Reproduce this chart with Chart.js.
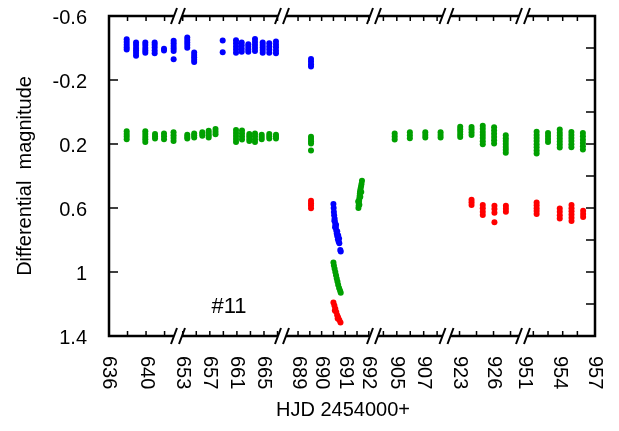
<!DOCTYPE html>
<html lang="en">
  <head>
    <meta charset="UTF-8" />
    <title>Differential magnitude</title>
    <style>
      body {
        margin: 0;
        background: #fff;
      }
      .chart {
        width: 619px;
        height: 431px;
      }
    </style>
  </head>
  <body>
    <div class="chart">
      <canvas id="myChart" width="619" height="431"></canvas>
    </div>
  </body>
  <script src="https://cdn.jsdelivr.net/npm/chart.js"></script>

  <script>
    // HJD - 2454000 of each night, and the magnitudes measured that night
    const blueNights = [637.91, 638.92, 639.92, 640.93, 641.94, 642.98, 653.67, 654.69, 658.9, 660.87, 661.71, 662.68, 663.67, 664.81, 665.78, 666.77, 689.55];
    const blueMags = [
      [-0.455, -0.438, -0.42, -0.405, -0.39],
      [-0.435, -0.418, -0.4, -0.385, -0.368, -0.352],
      [-0.435, -0.418, -0.4, -0.385, -0.37],
      [-0.435, -0.42, -0.403, -0.385, -0.367],
      [-0.395, -0.385],
      [-0.446, -0.43, -0.413, -0.397, -0.382, -0.329],
      [-0.466, -0.45, -0.434, -0.418, -0.402],
      [-0.372, -0.357, -0.342, -0.327, -0.313],
      [-0.447, -0.373],
      [-0.448, -0.43, -0.41, -0.39, -0.371],
      [-0.435, -0.415, -0.396, -0.377],
      [-0.424, -0.408, -0.392, -0.376],
      [-0.456, -0.437, -0.419, -0.4, -0.382],
      [-0.435, -0.419, -0.403, -0.387, -0.371],
      [-0.429, -0.41, -0.39, -0.371],
      [-0.441, -0.422, -0.404, -0.385, -0.367],
      [-0.331, -0.315, -0.299, -0.284],
    ];
    // the fast nights (690 / 691), point by point
    const blueRunT = [690.5, 690.51, 690.52, 690.53, 690.55, 690.56, 690.58, 690.6, 690.62, 690.64, 690.66, 690.69, 690.72, 690.75, 690.79, 690.81,
      690.54, 690.57, 690.61, 690.66, 690.7, 690.74];
    const blueRunM = [0.575, 0.6, 0.625, 0.645, 0.665, 0.685, 0.705, 0.72, 0.74, 0.76, 0.775, 0.795, 0.81, 0.82, 0.862, 0.872,
      0.68, 0.72, 0.705, 0.745, 0.77, 0.79];

    const greenNights = [637.91, 639.92, 640.97, 641.94, 642.97, 653.67, 654.69, 655.89, 656.83, 657.84, 660.87, 661.75, 662.83, 663.67, 664.66, 665.78, 666.77, 689.55, 904.84, 905.97, 907.12, 908.26, 923.06, 924.06, 925.05, 926.05, 927.08, 952.03, 953.0, 954.0, 954.99, 955.97];
    const greenMags = [
      [0.121, 0.137, 0.153, 0.17],
      [0.121, 0.137, 0.154, 0.17, 0.187],
      [0.138, 0.152, 0.166],
      [0.134, 0.152, 0.171],
      [0.127, 0.145, 0.163, 0.181],
      [0.142, 0.154, 0.166],
      [0.134, 0.147, 0.16],
      [0.127, 0.138, 0.149],
      [0.117, 0.131, 0.145, 0.16],
      [0.107, 0.123, 0.139],
      [0.113, 0.131, 0.15, 0.168, 0.187],
      [0.115, 0.134, 0.153, 0.172],
      [0.138, 0.152, 0.167, 0.181],
      [0.134, 0.152, 0.17, 0.187],
      [0.142, 0.156, 0.171],
      [0.138, 0.152, 0.166],
      [0.142, 0.154, 0.166],
      [0.154, 0.168, 0.183, 0.197, 0.24],
      [0.134, 0.153, 0.172],
      [0.127, 0.145, 0.164],
      [0.127, 0.143, 0.16],
      [0.127, 0.143, 0.16],
      [0.092, 0.108, 0.124, 0.14, 0.156],
      [0.093, 0.11, 0.126, 0.143],
      [0.086, 0.105, 0.125, 0.144, 0.163, 0.183, 0.202],
      [0.096, 0.116, 0.136, 0.156, 0.177, 0.197],
      [0.146, 0.164, 0.182, 0.2, 0.218, 0.236, 0.254],
      [0.124, 0.143, 0.163, 0.182, 0.202, 0.221, 0.24, 0.26],
      [0.131, 0.15, 0.169, 0.188],
      [0.11, 0.129, 0.147, 0.166, 0.185, 0.203, 0.222],
      [0.125, 0.144, 0.163, 0.182, 0.201, 0.22],
      [0.131, 0.152, 0.173, 0.193, 0.214, 0.235],
    ];
    const greenRunT = [690.5, 690.52, 690.55, 690.58, 690.61, 690.64, 690.67, 690.7, 690.74, 690.78, 690.81,
      691.56, 691.57, 691.58, 691.59, 691.6, 691.61, 691.62, 691.63, 691.65, 691.67, 691.69, 691.71,
      691.55, 691.6, 691.64, 691.68];
    const greenRunM = [0.94, 0.96, 0.98, 1.0, 1.02, 1.04, 1.06, 1.08, 1.1, 1.115, 1.13,
      0.6, 0.585, 0.57, 0.555, 0.54, 0.525, 0.51, 0.495, 0.48, 0.465, 0.45, 0.43,
      0.56, 0.58, 0.53, 0.5];

    const redNights = [689.55, 924.06, 925.05, 926.08, 927.09, 952.03, 954.0, 955.0, 955.99];
    const redMags = [
      [0.554, 0.57, 0.585, 0.601],
      [0.548, 0.564, 0.581],
      [0.582, 0.602, 0.623, 0.643],
      [0.586, 0.607, 0.629, 0.689],
      [0.586, 0.605, 0.624],
      [0.565, 0.583, 0.601, 0.619, 0.637],
      [0.603, 0.624, 0.645, 0.666],
      [0.581, 0.601, 0.621, 0.641, 0.661, 0.681],
      [0.617, 0.637, 0.657],
    ];
    const redRunT = [690.5, 690.54, 690.58, 690.62, 690.66, 690.7, 690.75, 690.8, 690.56, 690.68];
    const redRunM = [1.19, 1.21, 1.23, 1.25, 1.27, 1.285, 1.3, 1.316, 1.24, 1.29];

    // axis labels / ticks
    const xLabels = [636, 640, 653, 657, 661, 665, 689, 690, 691, 692, 905, 907, 923, 926, 951, 954, 957];
    const xTicks = [638, 640, 642, 653, 655, 657, 659, 661, 663, 665, 667, 689, 689.5, 690, 690.5, 691, 691.5, 692,
      904, 905, 906, 907, 908, 923, 924.5, 926, 927.5, 951.75, 953, 954.25, 955.5];
    const yLabels = [-0.6, -0.2, 0.2, 0.6, 1, 1.4];
    const yRightTicks = [-0.6, -0.4, -0.2, 0, 0.2, 0.4, 0.6, 0.8, 1, 1.2, 1.4];

    // broken x axis: [from, to, width on the axis]
    const pieces = [
      [636, 643.45, 69],
      [652.3, 667.66, 104],
      [688.32, 692.22, 92],
      [903.3, 908.7, 72.5],
      [921.85, 928.6, 76.5],
      [950.87, 957, 72],
    ];
    const axisLen = pieces.reduce((s, p) => s + p[2], 0);

    function toAxis(t) {
      let off = 0;
      for (const [lo, hi, w] of pieces) {
        if (t <= hi + 1e-9) return off + ((t - lo) / (hi - lo)) * w;
        off += w;
      }
      return axisLen;
    }

    function points(nights, mags, runT, runM) {
      const pts = [];
      nights.forEach((t, i) => mags[i].forEach((m) => pts.push({ x: toAxis(t), y: m })));
      runT.forEach((t, i) => pts.push({ x: toAxis(t), y: runM[i] }));
      return pts;
    }

    const FONT = "'Liberation Sans', Arial, sans-serif";

    const axesPlugin = {
      id: "axes",
      afterDatasetsDraw(chart) {
        const { ctx, chartArea: a } = chart;
        const xs = chart.scales.x;
        const ys = chart.scales.y;
        ctx.save();
        ctx.strokeStyle = "#000";
        ctx.fillStyle = "#000";

        ctx.lineWidth = 1.5;
        ctx.beginPath();
        yLabels.forEach((v) => {
          const y = ys.getPixelForValue(v);
          ctx.moveTo(a.left, y);
          ctx.lineTo(a.left + 9, y);
        });
        yRightTicks.forEach((v) => {
          const y = ys.getPixelForValue(v);
          ctx.moveTo(a.right, y);
          ctx.lineTo(a.right - 9, y);
        });
        xTicks.forEach((t) => {
          const x = xs.getPixelForValue(toAxis(t));
          ctx.moveTo(x, a.bottom);
          ctx.lineTo(x, a.bottom - 5);
          ctx.moveTo(x, a.top);
          ctx.lineTo(x, a.top + 5);
        });
        ctx.stroke();

        // frame
        ctx.lineWidth = 2.5;
        ctx.strokeRect(a.left, a.top, a.right - a.left, a.bottom - a.top);

        // break marks
        let off = 0;
        ctx.lineWidth = 2;
        pieces.slice(0, -1).forEach((p) => {
          off += p[2];
          const bx = xs.getPixelForValue(off);
          [a.top, a.bottom].forEach((y) => {
            ctx.fillStyle = "#fff";
            ctx.fillRect(bx - 4, y - 2, 8, 4);
            ctx.beginPath();
            ctx.moveTo(bx - 7, y + 8);
            ctx.lineTo(bx - 1, y - 8);
            ctx.moveTo(bx + 1, y + 8);
            ctx.lineTo(bx + 7, y - 8);
            ctx.stroke();
          });
        });

        ctx.fillStyle = "#000";
        ctx.font = "20px " + FONT;
        ctx.textAlign = "right";
        ctx.textBaseline = "middle";
        yLabels.forEach((v) => ctx.fillText(String(v), 87, ys.getPixelForValue(v) + 2));

        ctx.textAlign = "left";
        xLabels.forEach((t) => {
          ctx.save();
          ctx.translate(xs.getPixelForValue(toAxis(t)), 356);
          ctx.rotate(Math.PI / 2);
          ctx.fillText(String(t), 0, 0);
          ctx.restore();
        });

        ctx.textAlign = "center";
        ctx.fillText("HJD 2454000+", 343, 410);

        ctx.save();
        ctx.translate(25, 176);
        ctx.rotate(-Math.PI / 2);
        ctx.fillText("Differential  magnitude", 0, 0);
        ctx.restore();

        ctx.font = "22px " + FONT;
        ctx.fillText("#11", 229, 307);

        ctx.restore();
      },
    };

    const ctx = document.getElementById("myChart");
    const dot = { pointRadius: 3, pointBorderWidth: 0, pointHoverRadius: 3 };

    new Chart(ctx, {
      type: "scatter",
      data: {
        datasets: [
          { label: "green", data: points(greenNights, greenMags, greenRunT, greenRunM), backgroundColor: "#00a000", ...dot },
          { label: "red", data: points(redNights, redMags, redRunT, redRunM), backgroundColor: "#ff0000", ...dot },
          { label: "blue", data: points(blueNights, blueMags, blueRunT, blueRunM), backgroundColor: "#0000ff", ...dot },
        ],
      },
      options: {
        responsive: false,
        animation: false,
        events: [],
        layout: { padding: { left: 109, top: 16, right: 24, bottom: 95 } },
        plugins: { legend: { display: false }, tooltip: { enabled: false } },
        scales: {
          x: { type: "linear", display: false, min: 0, max: axisLen },
          y: { type: "linear", display: false, reverse: true, min: -0.6, max: 1.4 },
        },
      },
      plugins: [axesPlugin],
    });
  </script>
</html>
